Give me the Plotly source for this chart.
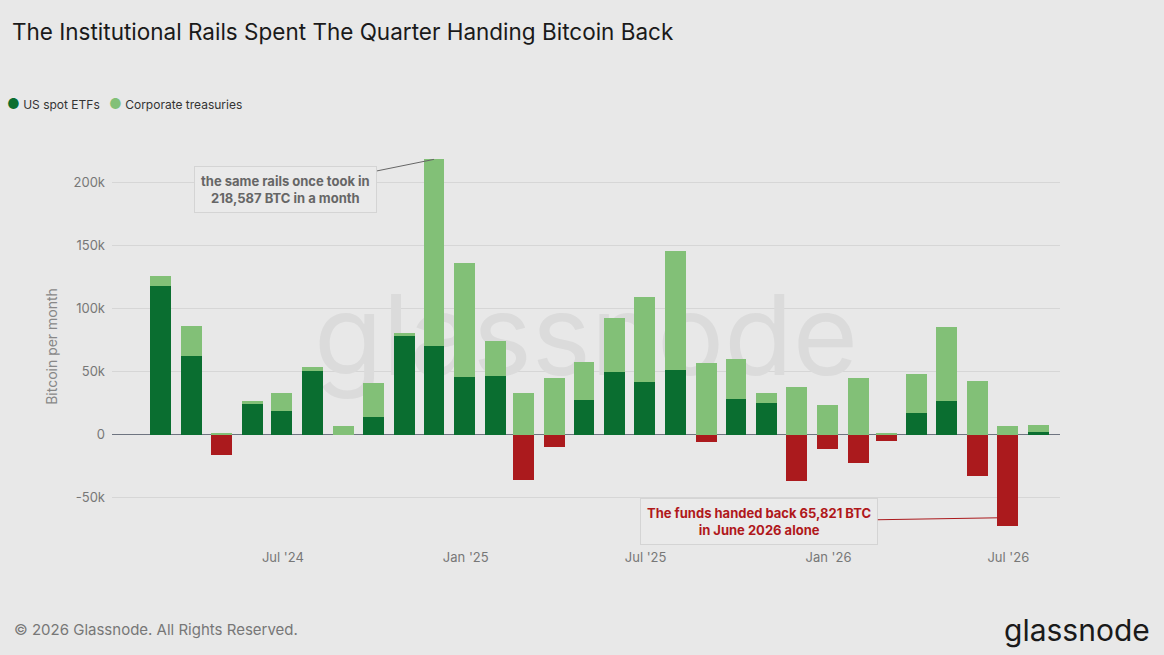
import plotly.graph_objects as go
import pandas as pd

# Month-end dates (Feb 2024 .. Jul 2026)
months = [d.strftime("%Y-%m-%d") for d in pd.date_range("2024-02-29", periods=30, freq="ME")]

# US spot ETF net flows (BTC per month)
etf_flows = [118200, 62800, -16400, 24500, 18700, 50400, 0, 14200, 78100, 70700,
             45400, 46200, -36200, -9500, 27900, 49600, 42200, 51400, -5800, 28500,
             25400, -37000, -11100, -22200, -4800, 17400, 26400, -33000, -72800, 2100]

# Corporate treasury net flows (BTC per month)
corp_flows = [7400, 23700, 1600, 1900, 14000, 3700, 6600, 26700, 2700, 147900,
              90800, 28500, 32700, 44800, 30100, 43300, 67000, 94500, 57000, 31900,
              7400, 37700, 23200, 44800, 800, 31100, 58800, 42700, 6900, 5500]

ytick_vals = [-50000, 0, 50000, 100000, 150000, 200000]
ytick_text = ["-50k", "0", "50k", "100k", "150k", "200k"]
xtick_vals = ["2024-07-01", "2025-01-01", "2025-07-01", "2026-01-01", "2026-07-01"]
xtick_text = ["Jul '24", "Jan '25", "Jul '25", "Jan '26", "Jul '26"]

DARK = "#0a6e30"
LIGHT = "#82c077"
RED = "#ab1a1d"
BG = "#e8e8e8"
FONT = "Inter, Roboto, sans-serif"

etf_colors = [RED if v < 0 else DARK for v in etf_flows]
bar_w = 21 * 86400000

fig = go.Figure()

# Watermark drawn on base (hidden) axes so bars sit above it
fig.add_trace(go.Scatter(
    x=[0.5], y=[0.5], mode="text", text=["glassnode"],
    textfont=dict(family=FONT, size=112, color="#dbdbdb"),
    xaxis="x", yaxis="y", showlegend=False, hoverinfo="skip"))

fig.add_trace(go.Bar(
    x=months, y=etf_flows, name="US spot ETFs", width=bar_w,
    marker=dict(color=etf_colors, line=dict(width=0)),
    xaxis="x2", yaxis="y2", showlegend=False))
fig.add_trace(go.Bar(
    x=months, y=corp_flows, name="Corporate treasuries", width=bar_w,
    marker=dict(color=LIGHT, line=dict(width=0)),
    xaxis="x2", yaxis="y2", showlegend=False))

dom_x = [112 / 1164, 1060 / 1164]
dom_y = [1 - 548 / 655, 1 - 145 / 655]

fig.update_layout(
    width=1164, height=655,
    paper_bgcolor=BG, plot_bgcolor=BG,
    margin=dict(l=0, r=0, t=0, b=0),
    barmode="relative", bargap=0,
    font=dict(family=FONT, color="#777777"),
    title=dict(text="The Institutional Rails Spent The Quarter Handing Bitcoin Back",
               x=12 / 1164, xanchor="left", y=1 - 32 / 655, yanchor="middle",
               font=dict(size=22.5, color="#1a1a1a", family=FONT)),
    showlegend=False,
    xaxis=dict(domain=dom_x, range=[0, 1], visible=False, fixedrange=True),
    yaxis=dict(domain=dom_y, range=[0, 1], visible=False, fixedrange=True),
    xaxis2=dict(domain=dom_x, overlaying="x", type="date",
                range=["2024-01-11", "2026-08-22"],
                tickvals=xtick_vals, ticktext=xtick_text,
                showgrid=False, showline=False, zeroline=False, ticks="",
                tickfont=dict(size=13, color="#777777"), anchor="y2"),
    yaxis2=dict(domain=dom_y, overlaying="y", range=[-90000, 230000],
                tickvals=ytick_vals, ticktext=ytick_text,
                showgrid=True, gridcolor="#d6d6d6", gridwidth=1,
                zeroline=True, zerolinecolor="#6e7480", zerolinewidth=1.2,
                showline=False, ticks="", ticklabelstandoff=6,
                tickfont=dict(size=13, color="#777777"),
                title=dict(text="Bitcoin per month", font=dict(size=14, color="#888888"), standoff=12),
                anchor="x2", side="left"),
)

# Legend as text
legend_items = [("US spot ETFs", DARK, 5), ("Corporate treasuries", LIGHT, 107)]
for label, col, xpos in legend_items:
    fig.add_annotation(
        xref="paper", yref="paper", x=xpos / 1164, y=1 - 104 / 655,
        xanchor="left", yanchor="middle", showarrow=False,
        text=f"<span style='color:{col};font-size:14px'>●</span> {label}",
        font=dict(size=12, color="#333333", family=FONT))

fig.add_annotation(
    xref="x2", yref="y2", x=months[9], y=etf_flows[9] + corp_flows[9],
    text="<b>the same rails once took in<br>218,587 BTC in a month</b>",
    showarrow=True, arrowhead=0, arrowwidth=1, arrowcolor="#666666",
    ax=-148, ay=30, font=dict(size=13, color="#666666", family=FONT),
    bgcolor="#eaeaea", bordercolor="#d4d4d4", borderwidth=1, borderpad=6, align="center")

fig.add_annotation(
    xref="x2", yref="y2", x=months[28], y=etf_flows[28] + corp_flows[28],
    text="<b>The funds handed back 65,821 BTC<br>in June 2026 alone</b>",
    showarrow=True, arrowhead=0, arrowwidth=1, arrowcolor=RED,
    ax=-248, ay=4, font=dict(size=13, color="#b0181b", family=FONT),
    bgcolor="#eaeaea", bordercolor="#d4d4d4", borderwidth=1, borderpad=6, align="center")

fig.add_annotation(
    xref="paper", yref="paper", x=12 / 1164, y=1 - 629 / 655, xanchor="left", yanchor="middle",
    text="© 2026 Glassnode. All Rights Reserved.", showarrow=False,
    font=dict(size=15, color="#777777", family=FONT))

fig.add_annotation(
    xref="paper", yref="paper", x=1152 / 1164, y=1 - 630 / 655, xanchor="right", yanchor="middle",
    text="glassnode", showarrow=False,
    font=dict(size=30, color="#1a1a1a", family=FONT))

fig.write_html("out.html", config={"displayModeBar": False},
               post_script="document.body.style.margin='0';")
